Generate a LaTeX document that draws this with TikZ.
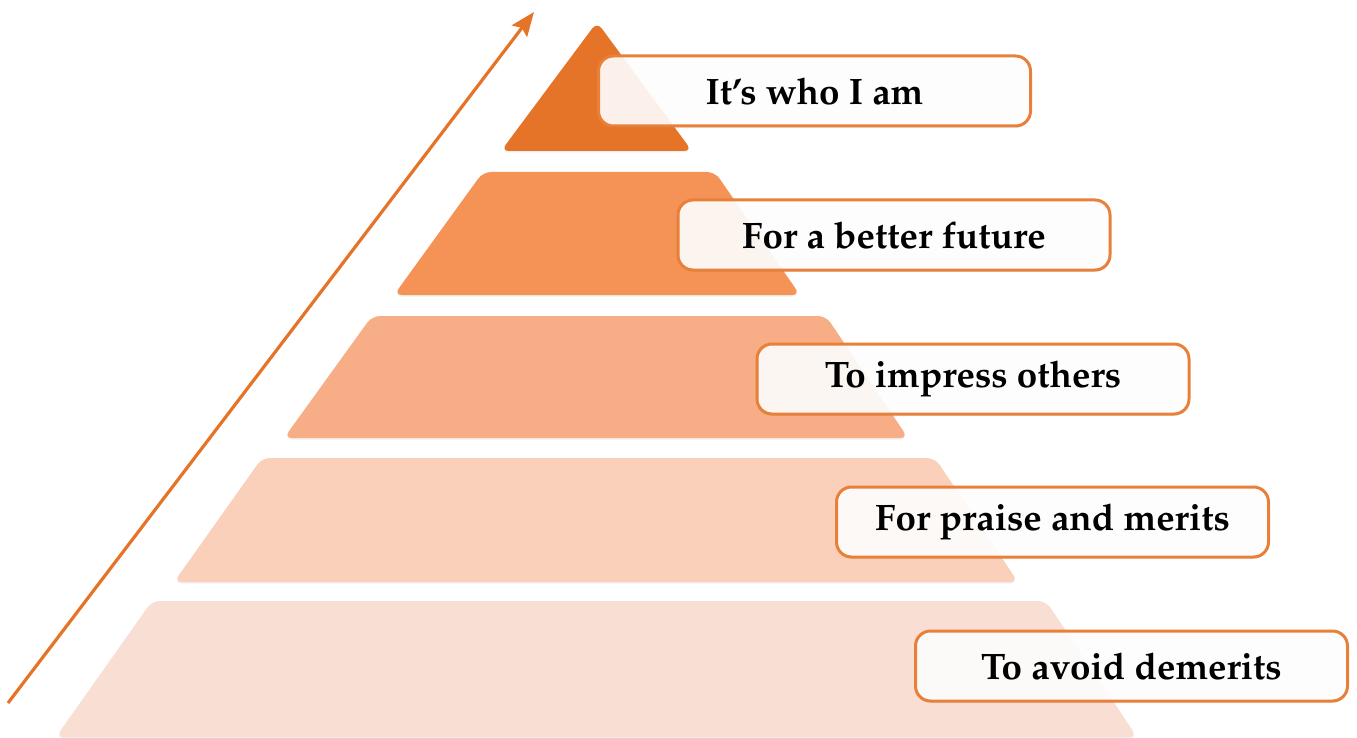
\documentclass[tikz,border=0pt]{standalone}
\usepackage[T1]{fontenc}
\usepackage{mathpazo}
\usetikzlibrary{arrows.meta,shadows}
\definecolor{lay1}{HTML}{E57428}
\definecolor{lay2}{HTML}{F49355}
\definecolor{lay3}{HTML}{F7AD85}
\definecolor{lay4}{HTML}{FAD0BB}
\definecolor{lay5}{HTML}{F8DED3}
\definecolor{edgeor}{HTML}{E8803A}
\definecolor{arrowor}{HTML}{E57428}
\tikzset{
  layer/.style={rounded corners=8pt, drop shadow={opacity=0.12, shadow xshift=0pt, shadow yshift=-1.5pt}},
  labelbox/.style={draw=edgeor, line width=3pt, rounded corners=15pt, fill=white, fill opacity=0.9, text opacity=1,
    minimum width=432pt, minimum height=70pt, inner sep=0pt, font=\fontsize{36.8}{42}\selectfont\bfseries,
    drop shadow={opacity=0.12, shadow xshift=0pt, shadow yshift=-2pt}},
  risearrow/.style={draw=arrowor, line width=3.2pt, -{Stealth[length=24pt,width=19pt,inset=4pt]}}
}
\begin{document}
\begin{tikzpicture}[x=1pt,y=-1pt]
\useasboundingbox (0,0) rectangle (1357,738);
% layers
\fill[lay5, layer] (152,601) -- (1046,601) -- (1137,737) -- (56,737) -- cycle;
\fill[lay4, layer] (262,458) -- (935,458) -- (1018,582) -- (174,582) -- cycle;
\fill[lay3, layer] (372,316) -- (826,316) -- (908,438) -- (284,438) -- cycle;
\fill[lay2, layer] (483,172) -- (715,172) -- (800,295) -- (394,295) -- cycle;
\fill[lay1, layer] (597,22) -- (692,151) -- (501,151) -- cycle;
% arrow
\coordinate (arrS) at (8,703);
\coordinate (arrE) at (534,12);
\draw[risearrow] (arrS) -- (arrE);
% labels
\node[labelbox] (l1) at (814.5,91) {It's who I am};
\node[labelbox] (l2) at (894,235) {For a better future};
\node[labelbox] (l3) at (973,379) {To impress others};
\node[labelbox] (l4) at (1052.5,522) {For praise and merits};
\node[labelbox] (l5) at (1131.5,666) {To avoid demerits};
\end{tikzpicture}
\end{document}
